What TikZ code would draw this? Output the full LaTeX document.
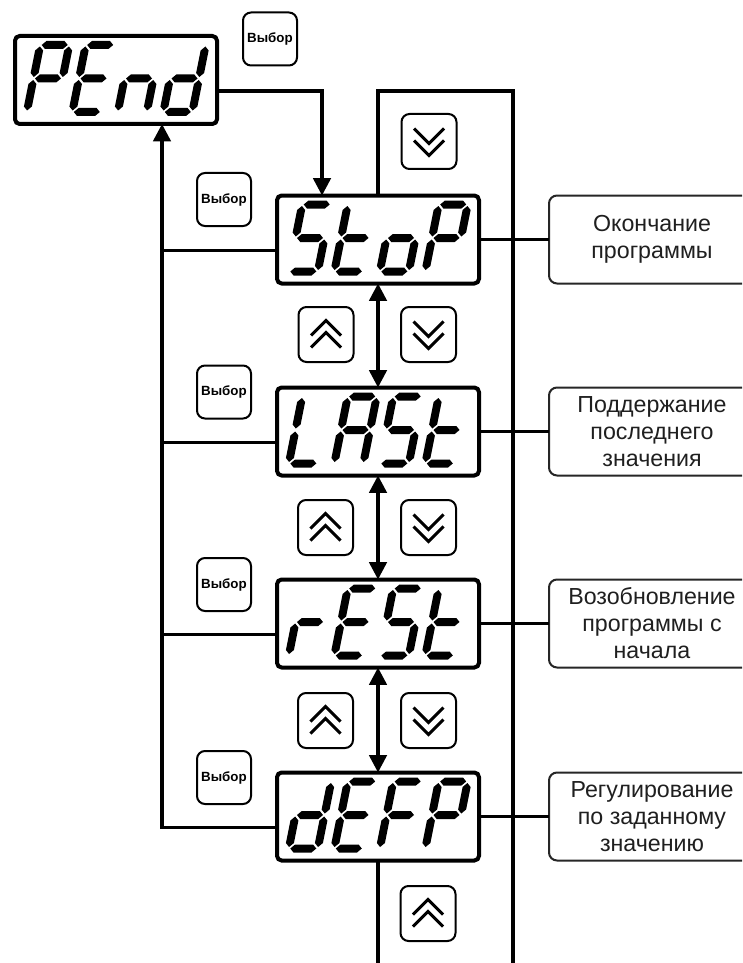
\documentclass[tikz,border=0pt]{standalone}
\usepackage{fontspec}
\setmainfont{Liberation Sans}
\usetikzlibrary{arrows.meta}
% seven-segment pieces (local units: px, y downward, origin top-left of cell)
\newcommand\segA{\fill (5.5,4)--(9.5,0)--(27.5,0)--(31.5,4)--(27.5,8)--(9.5,8)--cycle;}
\newcommand\segB{\fill (33,5.5)--(37,9.5)--(37,32)--(33,36)--(29,32)--(29,9.5)--cycle;}
\newcommand\segC{\fill (33,39)--(37,43)--(37,65.5)--(33,69.5)--(29,65.5)--(29,43)--cycle;}
\newcommand\segD{\fill (5.5,71)--(9.5,67)--(27.5,67)--(31.5,71)--(27.5,75)--(9.5,75)--cycle;}
\newcommand\segE{\fill (4,39)--(8,43)--(8,65.5)--(4,69.5)--(0,65.5)--(0,43)--cycle;}
\newcommand\segF{\fill (4,5.5)--(8,9.5)--(8,32)--(4,36)--(0,32)--(0,9.5)--cycle;}
\newcommand\segG{\fill (5.5,37.5)--(9.5,33.5)--(27.5,33.5)--(31.5,37.5)--(27.5,41.5)--(9.5,41.5)--cycle;}
\newcommand\lcdP{\segA\segB\segE\segF\segG}
\newcommand\lcdE{\segA\segD\segE\segF\segG}
\newcommand\lcdn{\segC\segE\segG}
\newcommand\lcdd{\segB\segC\segD\segE\segG}
\newcommand\lcdS{\segA\segC\segD\segF\segG}
\newcommand\lcdt{\segD\segE\segF\segG}
\newcommand\lcdo{\segC\segD\segE\segG}
\newcommand\lcdL{\segD\segE\segF}
\newcommand\lcdA{\segA\segB\segC\segE\segF\segG}
\newcommand\lcdr{\segE\segG}
\newcommand\lcdF{\segA\segE\segF\segG}
\newcommand\lcdword[5]{%
  \begin{scope}[shift={(#1.north west)},shift={(22,5)},xslant=0.2]
    \begin{scope}[shift={(0,0)}]#2\end{scope}
    \begin{scope}[shift={(45.5,0)}]#3\end{scope}
    \begin{scope}[shift={(91,0)}]#4\end{scope}
    \begin{scope}[shift={(136.5,0)}]#5\end{scope}
  \end{scope}}
\begin{document}
\begin{tikzpicture}[x=0.75pt,y=-0.75pt,
  disp/.style={draw,line width=3pt,rounded corners=3.5pt,minimum width=151.5pt,minimum height=66pt,inner sep=0pt,outer sep=0pt},
  vbtn/.style={draw,line width=1.5pt,rounded corners=6pt,minimum width=40.5pt,minimum height=39.75pt,inner sep=0pt,outer sep=0pt,font=\bfseries\fontsize{10pt}{11pt}\selectfont},
  kbtn/.style={draw,line width=1.5pt,rounded corners=6pt,minimum width=41.25pt,minimum height=41.25pt,inner sep=0pt,outer sep=0pt},
  tbox/.style={draw=black!85,line width=1.5pt,rounded corners=6pt,minimum width=154.5pt,minimum height=66pt,inner sep=0pt,outer sep=0pt,align=center,text=black!88,font=\fontsize{17.4pt}{20.3pt}\selectfont},
  conn/.style={line width=2.6pt},
  chev/.style={line width=2.2pt},
  Ah/.tip={Triangle[length=13pt,width=13pt]},
  upch/.pic={\draw[chev] (-15,1)--(0,-14)--(15,1) (-15,13)--(0,-2)--(15,13);},
  dnch/.pic={\draw[chev] (-15,-13)--(0,2)--(15,-13) (-15,-1)--(0,14)--(15,-1);}
]
\useasboundingbox (0,0) rectangle (742,963);
\fill[white] (0,0) rectangle (742,963);
\clip (0,0) rectangle (742,963);

% displays
\node[disp] (pend) at (116,80) {};
\node[disp] (stop) at (378,239.5) {};
\node[disp] (last) at (378,431.5) {};
\node[disp] (rest) at (378,623.5) {};
\node[disp] (defp) at (378,816.5) {};
\lcdword{pend}{\lcdP}{\lcdE}{\lcdn}{\lcdd}
\lcdword{stop}{\lcdS}{\lcdt}{\lcdo}{\lcdP}
\lcdword{last}{\lcdL}{\lcdA}{\lcdS}{\lcdt}
\lcdword{rest}{\lcdr}{\lcdE}{\lcdS}{\lcdt}
\lcdword{defp}{\lcdd}{\lcdE}{\lcdF}{\lcdP}

% select buttons
\node[vbtn] (vb0) at (270,39) {Выбор};
\node[vbtn] (vb1) at (224,199.5) {Выбор};
\node[vbtn] (vb2) at (224,392) {Выбор};
\node[vbtn] (vb3) at (224,584.5) {Выбор};
\node[vbtn] (vb4) at (224,777.5) {Выбор};

% arrow keys
\node[kbtn] (dn0) at (429,141.5) {};
\node[kbtn] (up1) at (326,334.5) {};
\node[kbtn] (dn1) at (428.5,334.5) {};
\node[kbtn] (up2) at (325.5,527.5) {};
\node[kbtn] (dn2) at (428.5,527.5) {};
\node[kbtn] (up3) at (325.5,720.5) {};
\node[kbtn] (dn3) at (428.5,720.5) {};
\node[kbtn] (up4) at (428,913.5) {};
\foreach \k in {dn0,dn1,dn2,dn3} \pic at (\k) {dnch};
\foreach \k in {up1,up2,up3,up4} \pic at (\k) {upch};

% text boxes
\node[tbox] (t1) at (652,239.5) {Окончание\\программы};
\node[tbox] (t2) at (652,431.5) {Поддержание\\последнего\\значения};
\node[tbox] (t3) at (652,623.5) {Возобновление\\программы с\\начала};
\node[tbox] (t4) at (652,816.5) {Регулирование\\по заданному\\значению};

% coordinates
\coordinate (pj) at (322,91);
\coordinate (ftr) at (513,91);
\coordinate (fbr) at (513,980);
\coordinate (lv) at (162,500);
\path ([yshift=-8.25pt]stop.west) coordinate (l1)
      ([yshift=-8.25pt]last.west) coordinate (l2)
      ([yshift=-8.25pt]rest.west) coordinate (l3)
      ([yshift=-8.25pt]defp.west) coordinate (l4);

% connectors
\draw[conn,-Ah] (pend.east |- pj) -- (pj) -- (pj |- stop.north);
\draw[conn] (stop.north) |- (ftr) -- (fbr);
\draw[conn] (defp.south) -- (defp.south |- fbr);
\foreach \a/\b in {stop/last,last/rest,rest/defp} \draw[conn,Ah-Ah] (\a.south) -- (\b.north);
\foreach \d/\t in {stop/t1,last/t2,rest/t3,defp/t4} \draw[conn] (\d.east) -- (\t.west);
\draw[conn,-Ah] (l4) -| (lv |- pend.south);
\foreach \l in {l1,l2,l3} \draw[conn] (\l) -- (\l -| lv);
\end{tikzpicture}
\end{document}
